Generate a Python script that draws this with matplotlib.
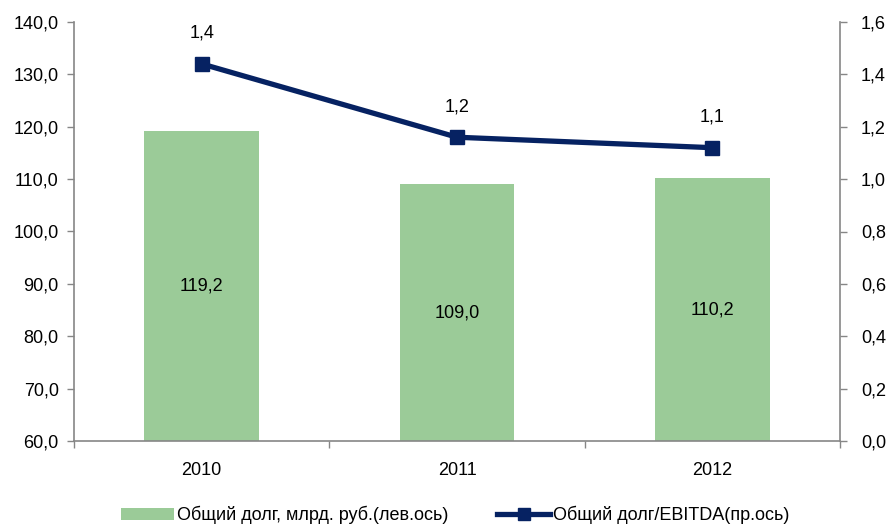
import matplotlib
matplotlib.use("Agg")
import matplotlib.pyplot as plt
from matplotlib.ticker import FixedLocator, FuncFormatter
from matplotlib.lines import Line2D
from matplotlib.patches import Patch

years = ["2010", "2011", "2012"]
total_debt = [119.2, 109.0, 110.2]          # bn RUB, left axis
debt_to_ebitda = [1.44, 1.16, 1.12]         # ratio, right axis
left_ticks = [60, 70, 80, 90, 100, 110, 120, 130, 140]
right_ticks = [0.0, 0.2, 0.4, 0.6, 0.8, 1.0, 1.2, 1.4, 1.6]
bar_label = "Общий долг, млрд. руб.(лев.ось)"
line_label = "Общий долг/EBITDA(пр.ось)"

plt.rcParams["font.family"] = ["Liberation Sans Narrow", "Liberation Sans", "DejaVu Sans"]
FS = 13
plt.rcParams["font.size"] = FS

BAR = "#9BCB98"
NAVY = "#062262"
AXIS = "#868686"

def comma(v, nd):
    return f"{v:.{nd}f}".replace(".", ",")

fig = plt.figure(figsize=(8.88, 5.28), dpi=100)
ax = fig.add_axes([74/888, 1-441/528, (840-74)/888, (441-22)/528])
x = list(range(len(years)))

ax.bar(x, [v - 60 for v in total_debt], bottom=60, width=0.45, color=BAR, zorder=2)
ax.set_xlim(-0.5, len(years) - 0.5)
ax.set_ylim(60, 140)
ax.yaxis.set_major_locator(FixedLocator(left_ticks))
ax.yaxis.set_major_formatter(FuncFormatter(lambda v, p: comma(v, 1)))
ax.set_xticks(x)
ax.set_xticklabels(years)
ax.tick_params(axis="x", length=0, pad=15, labelsize=FS)
ax.set_xticks([i + 0.5 for i in range(-1, len(years))], minor=True)
ax.tick_params(axis="x", which="minor", length=5, color=AXIS, width=1)
ax.tick_params(axis="y", length=5, color=AXIS, width=1, pad=6, labelsize=FS)
for s in ("top", "right"):
    ax.spines[s].set_visible(False)
for s in ("left", "bottom"):
    ax.spines[s].set_color(AXIS)
    ax.spines[s].set_linewidth(1.2)

for xi, v in zip(x, total_debt):
    ax.text(xi, (60 + v) / 2, comma(v, 1), ha="center", va="center", fontsize=FS)

ax2 = ax.twinx()
ax2.set_ylim(0, 1.6)
ax2.yaxis.set_major_locator(FixedLocator(right_ticks))
ax2.yaxis.set_major_formatter(FuncFormatter(lambda v, p: comma(v, 1)))
ax2.plot(x, debt_to_ebitda, color=NAVY, lw=3.8, marker="s", markersize=10.5, zorder=3)
ax2.tick_params(axis="y", length=5, color=AXIS, width=1, pad=10, labelsize=FS)
for s in ("top", "left", "bottom"):
    ax2.spines[s].set_visible(False)
ax2.spines["right"].set_color(AXIS)
ax2.spines["right"].set_linewidth(1.2)
for xi, v in zip(x, debt_to_ebitda):
    ax2.annotate(comma(v, 1), (xi, v), xytext=(0, 22), textcoords="offset points",
                 ha="center", va="center", fontsize=FS)

handles = [Patch(facecolor=BAR, edgecolor="none"),
           Line2D([], [], color=NAVY, lw=3.8, marker="s", markersize=8)]
fig.legend(handles, [bar_label, line_label], loc="center",
           bbox_to_anchor=(0.513, 1 - 515/528), ncol=2, frameon=False,
           handlelength=2.9, handleheight=0.7, handletextpad=0.2,
           columnspacing=2.7, fontsize=FS)

fig.savefig("out.png", dpi=100)
